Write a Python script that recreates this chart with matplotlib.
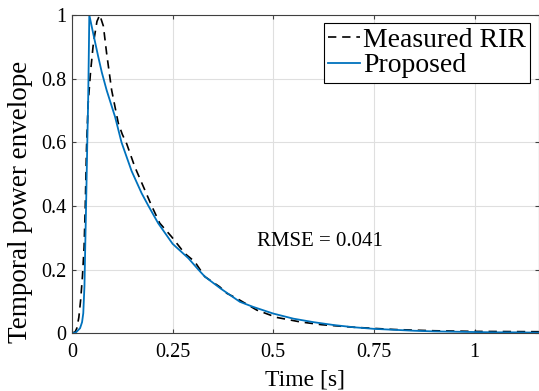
import matplotlib
matplotlib.use("Agg")
import matplotlib.pyplot as plt

# measured RIR envelope
t_meas = [0, 0.008, 0.012, 0.017, 0.0215, 0.026, 0.030, 0.033, 0.036, 0.040, 0.046,
          0.053, 0.062, 0.069, 0.078, 0.086, 0.0985, 0.115, 0.125, 0.136, 0.156, 0.181,
          0.198, 0.218, 0.247, 0.280, 0.305, 0.330, 0.367, 0.384, 0.409,
          0.459, 0.508, 0.566, 0.62, 0.70, 0.80, 0.90, 1.0, 1.16]
y_meas = [0, 0.005, 0.016, 0.05, 0.105, 0.18, 0.27, 0.40, 0.58, 0.72, 0.82,
          0.91, 0.98, 1.0, 0.965, 0.88, 0.764, 0.66, 0.625, 0.595, 0.523, 0.45,
          0.40, 0.346, 0.304, 0.251, 0.225, 0.178, 0.146, 0.126, 0.110,
          0.073, 0.050, 0.036, 0.027, 0.019, 0.012, 0.008, 0.006, 0.005]

# proposed model envelope
t_prop = [0, 0.010, 0.020, 0.025, 0.028, 0.031, 0.033, 0.035, 0.038, 0.040, 0.042,
          0.043, 0.053, 0.065, 0.074, 0.086, 0.107, 0.123, 0.148, 0.173, 0.190, 0.214,
          0.25, 0.289, 0.314, 0.330, 0.37, 0.417, 0.45, 0.50, 0.55, 0.60, 0.65, 0.70,
          0.75, 0.80, 0.85, 0.90, 0.95, 1.00, 1.05, 1.10, 1.16]
y_prop = [0, 0.003, 0.016, 0.035, 0.063, 0.15, 0.28, 0.40, 0.60, 0.72, 0.90,
          1.0, 0.94, 0.87, 0.82, 0.764, 0.68, 0.60, 0.51, 0.44, 0.40, 0.346,
          0.281, 0.236, 0.20, 0.178, 0.14, 0.099, 0.083, 0.062, 0.046, 0.035, 0.026, 0.019,
          0.014, 0.011, 0.008, 0.006, 0.005, 0.004, 0.003, 0.003, 0.002]

xticks = [0, 0.25, 0.5, 0.75, 1]
xticklabels = ["0", "0.25", "0.5", "0.75", "1"]
yticks = [0, 0.2, 0.4, 0.6, 0.8, 1]
yticklabels = ["0", "0.2", "0.4", "0.6", "0.8", "1"]

plt.rcParams['font.family'] = ['Liberation Serif', 'DejaVu Serif']

fig = plt.figure(figsize=(5.39, 3.91), dpi=100)
ax = fig.add_axes([72 / 539, 57.7 / 391, 466.5 / 539, 318.3 / 391])

ax.plot(t_meas, y_meas, color='black', lw=1.2, ls=(0, (5, 3.5)), label='Measured RIR')
ax.plot(t_prop, y_prop, color='#0072BD', lw=1.3, label='Proposed')

ax.set_xlim(0, 1.159)
ax.set_ylim(0, 1)
ax.set_xticks(xticks)
ax.set_xticklabels(xticklabels)
ax.set_yticks(yticks)
ax.set_yticklabels(yticklabels)
ax.grid(True, color='#dfdfdf', lw=0.8)
ax.set_axisbelow(True)

for s in ax.spines.values():
    s.set_color('#404040')
    s.set_linewidth(0.8)
ax.tick_params(direction='in', top=True, right=True, length=3, width=0.8,
               color='#404040', labelsize=14.5)
ax.tick_params(axis='x', pad=7)
ax.tick_params(axis='y', pad=4)

ax.set_xlabel('Time [s]', fontsize=17)
ax.xaxis.set_label_coords(0.5, -0.115)
ax.set_ylabel('Temporal power envelope', fontsize=19.5)
ax.yaxis.set_label_coords(-0.084, 0.414)

ax.text(0.4585, 0.288, 'RMSE = 0.041', fontsize=15, va='center', ha='left')

leg = ax.legend(loc='upper right', fontsize=20, fancybox=False, framealpha=1,
                edgecolor='black', handlelength=1.15, handletextpad=0.12,
                borderpad=0.15, labelspacing=0.0, borderaxespad=0.3)
leg.get_frame().set_linewidth(0.8)

fig.savefig('out.png', dpi=100)
